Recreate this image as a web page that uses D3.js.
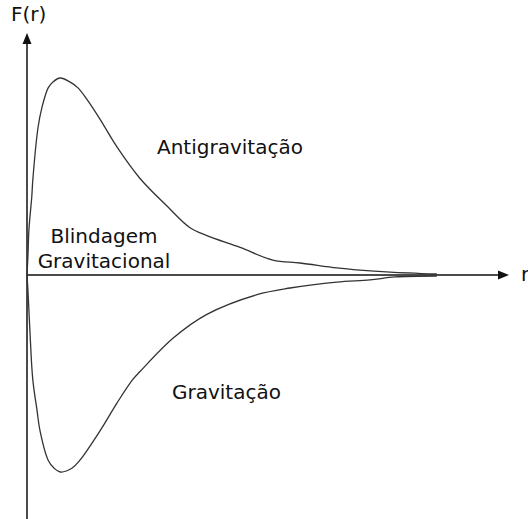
<!DOCTYPE html>
<html>
<head>
  <meta charset="UTF-8">
  <style>
    body {
      margin: 0;
      background: #fff;
    }
    svg {
      display: block;
    }
    .label {
      font-family: 'DejaVu Sans', Verdana, sans-serif;
      font-size: 20px;
      fill: #111;
    }
    .curve {
      fill: none;
      stroke: #333;
      stroke-width: 1.3;
    }
    .axis-line {
      stroke: #111;
      stroke-width: 1.5;
    }
  </style>
  <script src="https://d3js.org/d3.v7.min.js"></script>
</head>
<body>
<svg id="chart" width="528" height="519"></svg>
<script>
// r values and F(r) for the upper branch (antigravitation)
const upperR = [0, 0.02, 0.04, 0.10, 0.12, 0.23, 0.31, 0.44, 0.54, 0.69, 0.89, 1.06, 1.25, 1.52, 1.87,
  2.35, 2.91, 3.39, 3.74, 4.43, 5.11, 5.68, 6.44, 6.92, 7.55, 8.52];
const upperF = [0, 0.10, 0.23, 0.40, 0.48, 0.75, 0.85, 0.95, 0.98, 1.0, 0.98, 0.95, 0.89, 0.79, 0.65,
  0.49, 0.35, 0.24, 0.20, 0.14, 0.076, 0.061, 0.036, 0.025, 0.015, 0.005];

// lower branch (gravitation)
const lowerR = [0, 0.02, 0.06, 0.12, 0.21, 0.27, 0.44, 0.56, 0.69, 0.94, 1.10, 1.52, 1.87, 2.20,
  2.35, 3.04, 3.74, 4.78, 5.47, 6.44, 7.13, 7.65, 8.52];
const lowerF = [0, -0.08, -0.28, -0.53, -0.69, -0.79, -0.94, -0.98, -1.0, -0.98, -0.94, -0.79, -0.65, -0.53,
  -0.49, -0.32, -0.20, -0.10, -0.066, -0.036, -0.025, -0.010, -0.005];

const regionLabels = ['Antigravitação', 'Blindagem', 'Gravitacional', 'Gravitação'];
const axisLabels = ['F(r)', 'r'];

const svg = d3.select('#chart');

const x = d3.scaleLinear().domain([0, 10]).range([27, 508]);
const y = d3.scaleLinear().domain([-1, 1]).range([472, 78]);

// axes
const axisTop = 33, axisBottom = 519, axisRight = 509;
svg.append('line').attr('class', 'axis-line')
  .attr('x1', x(0)).attr('x2', x(0))
  .attr('y1', axisTop + 8).attr('y2', axisBottom);
svg.append('line').attr('class', 'axis-line')
  .attr('x1', x(0)).attr('x2', axisRight - 8)
  .attr('y1', y(0)).attr('y2', y(0));

// arrowheads
svg.append('path')
  .attr('d', `M${x(0)},${axisTop} L${x(0) - 4.5},${axisTop + 11} L${x(0) + 4.5},${axisTop + 11} Z`)
  .attr('fill', '#111');
svg.append('path')
  .attr('d', `M${axisRight},${y(0)} L${axisRight - 11},${y(0) - 4.5} L${axisRight - 11},${y(0) + 4.5} Z`)
  .attr('fill', '#111');

const line = d3.line()
  .x(d => x(d[0]))
  .y(d => y(d[1]))
  .curve(d3.curveCatmullRom.alpha(0.5));

svg.append('path').attr('class', 'curve')
  .attr('d', line(d3.zip(upperR, upperF)));
svg.append('path').attr('class', 'curve')
  .attr('d', line(d3.zip(lowerR, lowerF)));

// labels
svg.append('text').attr('class', 'label')
  .attr('x', 11).attr('y', 21).text(axisLabels[0]);
svg.append('text').attr('class', 'label')
  .attr('x', 521).attr('y', 281).text(axisLabels[1]);

svg.append('text').attr('class', 'label')
  .attr('x', 157).attr('y', 154).text(regionLabels[0]);
svg.append('text').attr('class', 'label')
  .attr('text-anchor', 'middle')
  .attr('x', 104).attr('y', 243).text(regionLabels[1]);
svg.append('text').attr('class', 'label')
  .attr('text-anchor', 'middle')
  .attr('x', 104).attr('y', 268).text(regionLabels[2]);
svg.append('text').attr('class', 'label')
  .attr('x', 172).attr('y', 399).text(regionLabels[3]);
</script>
</body>
</html>
